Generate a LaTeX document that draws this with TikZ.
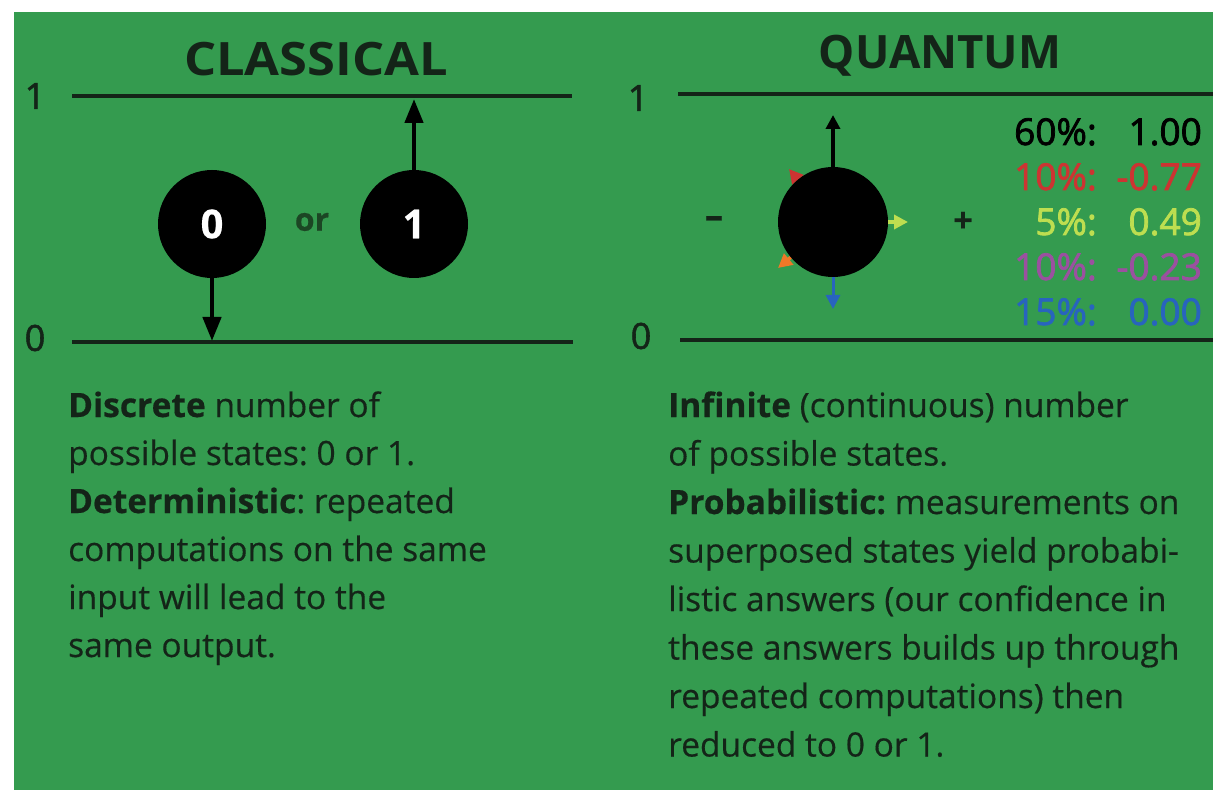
\documentclass[tikz,border=0pt]{standalone}
\usepackage{fontspec}
\setmainfont{Open Sans}[FakeBold=0.4]
\newfontfamily\tabfont[FakeBold=2]{Open Sans}
\newfontfamily\axisfont[FakeBold=1.5]{Open Sans}
\newfontfamily\titlefont[FakeStretch=1.1]{Open Sans}
\usetikzlibrary{arrows.meta}
\definecolor{bggreen}{RGB}{52,155,79}
\definecolor{ink}{RGB}{20,36,24}
\definecolor{ordark}{RGB}{28,70,36}
\definecolor{qred}{RGB}{205,52,50}
\definecolor{qyel}{RGB}{190,222,80}
\definecolor{qpur}{RGB}{155,80,160}
\definecolor{qblue}{RGB}{40,100,190}
\definecolor{qorg}{RGB}{240,120,40}
\tikzset{
  body/.style={anchor=base west, inner sep=0pt, text=ink, font=\frenchspacing\fontsize{33.5}{48}\selectfont},
  title/.style={inner sep=0pt, text=ink, font=\titlefont\bfseries\fontsize{46}{50}\selectfont},
  axis/.style={inner sep=0pt, text=ink, font=\axisfont\fontsize{36}{40}\selectfont},
  hline/.style={draw=ink, line width=4pt},
  bit/.style={circle, fill=black, minimum size=108pt, inner sep=0pt, text=white, font=\bfseries\fontsize{40}{44}\selectfont},
  carrow/.style={draw=black, line width=4.5pt, -{Triangle[length=24pt,width=18pt]}},
  qarrow/.style={line width=3.5pt, -{Triangle[length=14pt,width=14pt]}},
  pct/.style={anchor=base east, inner sep=0pt, font=\tabfont\fontsize{37}{40}\selectfont},
}
\begin{document}
\begin{tikzpicture}[x=1pt,y=-1pt]
\useasboundingbox (0,0) rectangle (1221,794);
\fill[white] (0,0) rectangle (1221,794);
\fill[bggreen] (14,12) rectangle (1213,790);

% ---------- Classical ----------
\node[title] (tc) at (316,59) {CLASSICAL};
\node[axis] (c1lab) at (35,96) {1};
\node[axis] (c0lab) at (35,338) {0};
\coordinate (L1a) at (72,96);
\coordinate (L1b) at (572,96);
\coordinate (L0a) at (72,342);
\coordinate (L0b) at (573,342);
\draw[hline] (L1a) -- (L1b);
\draw[hline] (L0a) -- (L0b);
\node[bit] (c0) at (212,224) {0};
\node[bit] (c1) at (414,224) {1};
\node[inner sep=0pt, text=ordark, font=\bfseries\fontsize{32}{36}\selectfont] (or) at (312,222) {or};
\draw[carrow, shorten >=1pt] (c0.south) -- (c0.south |- L0a);
\draw[carrow, shorten >=3pt] (c1.north) -- (c1.north |- L1a);

% ---------- Quantum ----------
\node[title] (tq) at (940,56) {\scalebox{0.9}[1]{QUANTUM}};
\node[axis] (q1lab) at (638,98) {1};
\node[axis] (q0lab) at (641,336) {0};
\coordinate (R1a) at (678,94);
\coordinate (R1b) at (1213,94);
\coordinate (R0a) at (680,340);
\coordinate (R0b) at (1213,340);
\draw[hline] (R1a) -- (R1b);
\draw[hline] (R0a) -- (R0b);

\coordinate (qc) at (833,222);
\coordinate (tred) at (789,169);
\coordinate (tyel) at (908,222);
\coordinate (torg) at (778,268);
\coordinate (tup) at (833,115);
\coordinate (tdown) at (833,309);
\draw[qarrow, draw=qred, fill=qred] (qc) -- (tred);
\draw[qarrow, draw=qyel, fill=qyel] (qc) -- (tyel);
\draw[qarrow, draw=qorg, fill=qorg] (qc) -- (torg);
\node[circle, fill=black, minimum size=110pt, inner sep=0pt] (q) at (qc) {};
\draw[qarrow, draw=black] (q.north) -- (tup);
\draw[qarrow, draw=qblue, line width=3pt] (q.south) -- (tdown);
\node[inner sep=0pt, text=ink, font=\bfseries\fontsize{36}{36}\selectfont] (minus) at (714,222) {\scalebox{1.6}[1]{-}};
\node[inner sep=0pt, text=ink, font=\bfseries\fontsize{34}{36}\selectfont] (plus) at (963,222) {+};

\node[pct, text=black] (p1) at (1097,145) {60\%:};
\node[pct, text=black] (v1) at (1202,145) {1.00};
\node[pct, text=qred] (p2) at (1097,190) {10\%:};
\node[pct, text=qred] (v2) at (1202,190) {-0.77};
\node[pct, text=qyel] (p3) at (1097,235) {5\%:};
\node[pct, text=qyel] (v3) at (1202,235) {0.49};
\node[pct, text=qpur] (p4) at (1097,280) {10\%:};
\node[pct, text=qpur] (v4) at (1202,280) {-0.23};
\node[pct, text=qblue] (p5) at (1097,325) {15\%:};
\node[pct, text=qblue] (v5) at (1202,325) {0.00};

% ---------- Texts ----------
\node[body] (l1) at (68,417) {\textbf{Discrete} number of};
\node[body] (l2) at (68,465) {possible states: 0 or 1.};
\node[body] (l3) at (68,513) {\textbf{Deterministic}: repeated};
\node[body] (l4) at (68,561) {computations on the same};
\node[body] (l5) at (68,609) {input will lead to the};
\node[body] (l6) at (68,657) {same output.};

\node[body] (r1) at (668,417) {\textbf{Infinite} (continuous) number};
\node[body] (r2) at (668,465.5) {of possible states.};
\node[body] (r3) at (668,514) {\textbf{Probabilistic:} measurements on};
\node[body] (r4) at (668,562.5) {superposed states yield probabi-};
\node[body] (r5) at (668,611) {listic answers (our confidence in};
\node[body] (r6) at (668,659.5) {these answers builds up through};
\node[body] (r7) at (668,708) {repeated computations) then};
\node[body] (r8) at (668,756.5) {reduced to 0 or 1.};
\end{tikzpicture}
\end{document}
